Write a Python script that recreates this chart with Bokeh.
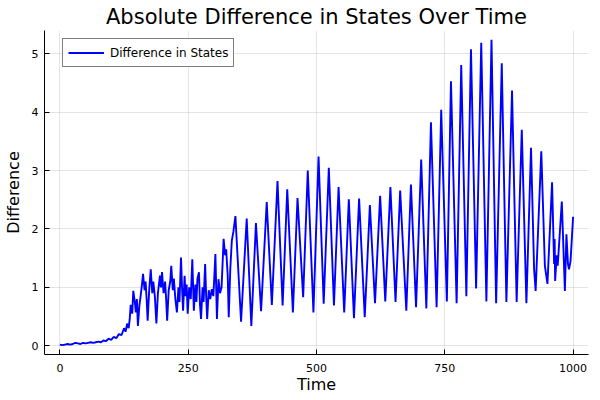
from bokeh.plotting import figure
from bokeh.models import ColumnDataSource, FixedTicker, Legend, LegendItem, Range1d
from bokeh.embed import file_html
from bokeh.resources import INLINE

# ---- data ----
early_t = [0, 5, 10, 15, 20, 25, 30, 35, 40, 45, 50, 55, 60, 65, 70, 75, 80, 85, 90, 95,
           100, 105, 110, 115, 120, 125, 128, 131, 134, 136]
early_v = [0.02, 0.01, 0.02, 0.03, 0.02, 0.03, 0.05, 0.04, 0.03, 0.05, 0.04, 0.05, 0.06, 0.05,
           0.06, 0.07, 0.06, 0.09, 0.08, 0.12, 0.10, 0.15, 0.13, 0.20, 0.18, 0.30, 0.24, 0.38,
           0.30, 0.45]

noisy_t = [138, 141, 143, 146, 148, 150, 152, 155, 157, 160, 162, 165, 167, 169, 171, 174, 177,
           180, 182, 185, 188, 191, 193, 195, 197, 199, 202, 205, 207, 209, 212, 215, 217, 220,
           222, 225, 228, 231, 233, 236, 238, 240, 243, 245, 247, 249, 252, 255, 258, 261, 264,
           266, 268, 271, 273, 275, 278, 280, 283, 285, 287, 290, 293, 296, 299, 301, 303, 306,
           309, 312, 315, 317, 319, 322, 324, 327, 329, 332, 335, 338]
noisy_v = [0.70, 0.55, 0.94, 0.75, 0.57, 0.80, 0.34, 0.70, 0.83, 1.05, 1.23, 0.95, 1.10, 0.80,
           0.43, 0.95, 1.31, 0.90, 1.10, 0.85, 0.38, 0.90, 1.05, 1.20, 1.00, 1.26, 0.90, 1.10,
           0.80, 0.43, 0.95, 1.10, 1.37, 0.95, 1.15, 0.80, 0.57, 1.00, 0.75, 1.51, 1.00, 0.60,
           1.20, 0.85, 1.05, 0.55, 1.00, 0.80, 1.48, 0.60, 1.05, 0.75, 1.15, 1.26, 0.70, 0.46,
           1.00, 0.75, 1.40, 0.85, 0.46, 0.95, 0.80, 0.97, 0.85, 1.20, 1.57, 0.46, 1.14, 0.90,
           1.00, 1.40, 1.83, 1.55, 1.65, 1.20, 0.49, 1.31, 1.80, 1.95]

wave_t = [342, 353, 364, 373, 382, 392, 403, 413, 424, 434, 443, 454, 463, 474, 483, 494, 504,
          514, 524, 534, 543, 554, 563, 573, 583, 594, 604, 614, 624, 634, 644, 654, 663, 675,
          684, 694, 704, 714, 723, 734, 743, 754, 762, 773, 782, 792, 801, 811, 821, 831, 841,
          850, 861, 870, 881, 890, 900, 909, 918]
wave_v = [2.22, 0.41, 2.18, 0.34, 2.10, 0.59, 2.46, 0.70, 2.82, 0.69, 2.68, 0.57, 2.53, 0.83,
          3.00, 0.57, 3.24, 0.72, 3.05, 0.69, 2.72, 0.57, 2.51, 0.47, 2.52, 0.49, 2.41, 0.73,
          2.57, 0.76, 2.72, 0.75, 2.66, 0.60, 2.76, 0.66, 3.19, 0.64, 3.83, 0.66, 4.04, 0.76,
          4.53, 0.73, 4.81, 0.85, 5.08, 0.98, 5.19, 0.76, 5.24, 0.73, 4.84, 0.75, 4.37, 0.75,
          3.70, 0.73, 3.39]

tail_t = [924, 927, 938, 945, 950, 959, 963, 964, 965, 968, 970, 978, 984, 987, 990, 992, 995, 1000]
tail_v = [1.31, 0.94, 3.33, 1.37, 1.06, 2.80, 1.40, 1.83, 1.11, 1.55, 1.37, 2.47, 0.94, 1.91,
          1.40, 1.31, 1.45, 2.21]

time = early_t + noisy_t + wave_t + tail_t
diff = early_v + noisy_v + wave_v + tail_v

x_ticks = [0, 250, 500, 750, 1000]
y_ticks = [0, 1, 2, 3, 4, 5]

FONT = "DejaVu Sans"

p = figure(frame_width=544, frame_height=324, output_backend="svg", toolbar_location=None,
           x_range=Range1d(-30, 1030), y_range=Range1d(-0.15, 5.40),
           title="Absolute Difference in States Over Time")
p.min_border_left = 36
p.min_border_right = 4
p.min_border_top = 23
p.min_border_bottom = 37
p.background_fill_color = "white"
p.border_fill_color = "white"
p.outline_line_color = None

p.title.text_font = FONT
p.title.text_font_size = "21px"
p.title.text_font_style = "normal"
p.title.align = "center"
p.title.text_color = "black"
p.title.offset = 0
p.title.standoff = 4

src = ColumnDataSource(dict(t=time, d=diff))
r = p.line("t", "d", source=src, line_color="#0000ff", line_width=1.9)

for ax in (p.xaxis[0], p.yaxis[0]):
    ax.major_tick_in = 5
    ax.major_tick_out = 0
    ax.minor_tick_in = 0
    ax.minor_tick_out = 0
    ax.axis_line_color = "black"
    ax.axis_line_width = 1
    ax.major_tick_line_color = "black"
    ax.major_label_text_font = FONT
    ax.major_label_text_font_size = "11px"
    ax.major_label_text_color = "black"
    ax.axis_label_text_font = FONT
    ax.axis_label_text_font_size = "16px"
    ax.axis_label_text_font_style = "normal"
    ax.axis_label_text_color = "black"

p.xaxis[0].ticker = FixedTicker(ticks=x_ticks)
p.yaxis[0].ticker = FixedTicker(ticks=y_ticks)
p.xaxis[0].axis_label = "Time"
p.yaxis[0].axis_label = "Difference"
p.xaxis[0].major_label_standoff = 9
p.xaxis[0].axis_label_standoff = 0
p.yaxis[0].major_label_standoff = 6
p.yaxis[0].axis_label_standoff = 6

p.xgrid[0].ticker = FixedTicker(ticks=x_ticks)
p.ygrid[0].ticker = FixedTicker(ticks=y_ticks)
for g in (p.xgrid[0], p.ygrid[0]):
    g.grid_line_color = "black"
    g.grid_line_alpha = 0.1
    g.grid_line_width = 1

legend = Legend(items=[LegendItem(label="Difference in States", renderers=[r])],
                location=(18, 287))
legend.border_line_color = "black"
legend.border_line_width = 1
legend.background_fill_color = "white"
legend.background_fill_alpha = 1
legend.label_text_font = FONT
legend.label_text_font_size = "12px"
legend.label_text_color = "black"
legend.glyph_width = 36
legend.glyph_height = 17
legend.label_height = 17
legend.label_standoff = 6
legend.padding = 5
legend.margin = 0
p.add_layout(legend, "center")

open("out.html", "w").write(file_html(p, INLINE))
